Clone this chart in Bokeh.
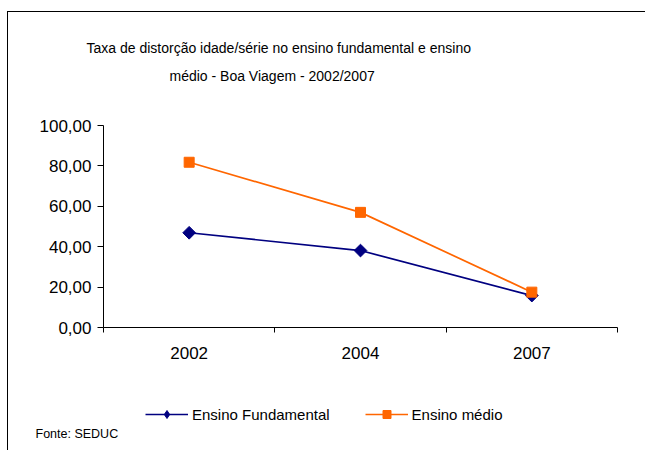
import math
from bokeh.plotting import figure
from bokeh.layouts import column
from bokeh.models import (Range1d, FixedTicker, CustomJSTickFormatter,
                          Legend, LegendItem, Title, ColumnDataSource)
from bokeh.embed import file_html
from bokeh.resources import INLINE

# ---- data ----
years = ["2002", "2004", "2007"]
fundamental = [46.9, 38.1, 15.8]
medio = [81.8, 57.0, 17.5]
y_ticks = [0, 20, 40, 60, 80, 100]
title_lines = ["Taxa de distorção idade/série no ensino fundamental e ensino",
               "médio - Boa Viagem - 2002/2007"]
series_names = ["Ensino Fundamental", "Ensino médio"]
source_note = "Fonte: SEDUC"

FONT = "Liberation Sans"
NAVY = "#000080"
ORANGE = "#FF6600"
W = 645
MAIN_H = 385
FOOT_H = 65

xs = [i + 0.5 for i in range(len(years))]
src = ColumnDataSource(data=dict(x=xs, fund=fundamental, med=medio))

# ---------------- main chart ----------------
p = figure(width=W, height=MAIN_H, output_backend="svg", toolbar_location=None,
           x_range=Range1d(0, len(years)), y_range=Range1d(0, 100),
           min_border_left=103, min_border_top=125, min_border_right=28, min_border_bottom=58)
p.outline_line_color = None
p.xgrid.visible = False
p.ygrid.visible = False
p.background_fill_color = "white"
p.border_fill_alpha = 0

ya = p.yaxis[0]
ya.ticker = FixedTicker(ticks=y_ticks)
ya.formatter = CustomJSTickFormatter(code="return tick.toFixed(2).replace('.', ',');")
ya.major_label_text_font = FONT
ya.major_label_text_font_size = "17px"
ya.major_label_text_color = "black"
ya.major_tick_out = 6
ya.major_tick_in = 0
ya.minor_tick_line_color = None
ya.major_label_standoff = 6
ya.axis_line_color = "black"
ya.major_tick_line_color = "black"

xa = p.xaxis[0]
xa.ticker = FixedTicker(ticks=xs, minor_ticks=list(range(len(years) + 1)))
xa.formatter = CustomJSTickFormatter(args=dict(labels=years),
                                     code="const i = Math.floor(tick); return labels[i] ?? '';")
xa.major_label_text_font = FONT
xa.major_label_text_font_size = "17px"
xa.major_label_text_color = "black"
xa.major_tick_out = 0
xa.major_tick_in = 0
xa.minor_tick_out = 5
xa.minor_tick_in = 0
xa.minor_tick_line_color = "black"
xa.major_label_standoff = 14
xa.axis_line_color = "black"

p.line("x", "fund", source=src, line_color=NAVY, line_width=1.7)
p.scatter("x", "fund", source=src, marker="square", angle=math.pi / 4, size=9,
          fill_color=NAVY, line_color=NAVY)
p.line("x", "med", source=src, line_color=ORANGE, line_width=1.7)
p.scatter("x", "med", source=src, marker="square", size=10,
          fill_color=ORANGE, line_color=ORANGE)

# title: spacer nearest the frame, then line 2, then line 1
p.add_layout(Title(text=" ", standoff=34, text_font_size="1px"), "above")
p.add_layout(Title(text=title_lines[1], align="left", offset=66, standoff=10,
                   text_font=FONT, text_font_size="14px", text_font_style="normal",
                   text_color="black"), "above")
p.add_layout(Title(text=title_lines[0], align="left", offset=-17, standoff=10,
                   text_font=FONT, text_font_size="14px", text_font_style="normal",
                   text_color="black"), "above")

# ---------------- footer: legend + source ----------------
f = figure(width=W, height=FOOT_H, output_backend="svg", toolbar_location=None,
           x_range=Range1d(0, 1), y_range=Range1d(0, 1),
           x_axis_type=None, y_axis_type=None,
           min_border_left=0, min_border_right=0, min_border_top=0, min_border_bottom=0)
f.outline_line_color = None
f.xgrid.visible = False
f.ygrid.visible = False
f.background_fill_alpha = 0
f.border_fill_alpha = 0

fl1 = f.line("x", "fund", source=src, line_color=NAVY, line_width=1.7, visible=False)
fm1 = f.scatter("x", "fund", source=src, marker="diamond", size=12,
                fill_color=NAVY, line_color=NAVY, visible=False)
fl2 = f.line("x", "med", source=src, line_color=ORANGE, line_width=1.7, visible=False)
fm2 = f.scatter("x", "med", source=src, marker="square", size=9,
                fill_color=ORANGE, line_color=ORANGE, visible=False)

legend = Legend(items=[LegendItem(label=series_names[0], renderers=[fl1, fm1]),
                       LegendItem(label=series_names[1], renderers=[fl2, fm2])],
                orientation="horizontal", location=(42, 2),
                glyph_width=43, glyph_height=20, label_standoff=4, spacing=35,
                padding=0, margin=0, background_fill_alpha=0, border_line_alpha=0,
                inactive_fill_alpha=0,
                label_text_font=FONT, label_text_font_size="15px", label_text_color="black")
f.add_layout(legend, "center")

# source note, then a thin spacer at the very bottom
f.add_layout(Title(text=source_note, align="left", offset=-68, vertical_align="top",
                   standoff=0, text_font=FONT, text_font_size="12.5px",
                   text_font_style="normal", text_color="black"), "below")
f.add_layout(Title(text=" ", standoff=5, text_font_size="1px"), "below")

# chart-area frame: only its top and left edges fall inside the picture
frame_bg = ("linear-gradient(#000, #000) 7px 11px / 1px calc(100% - 11px) no-repeat, "
            "linear-gradient(#000, #000) 7px 11px / calc(100% - 7px) 1px no-repeat, white")
layout = column(p, f, styles={"background": frame_bg})

open("out.html", "w").write(file_html(layout, INLINE))
